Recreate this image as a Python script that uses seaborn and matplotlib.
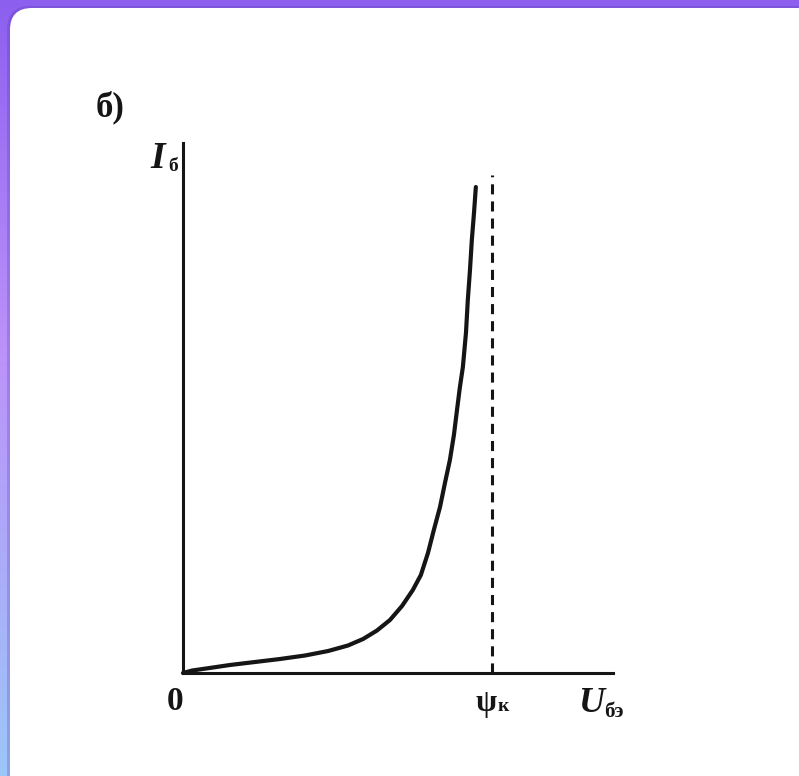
import numpy as np
import matplotlib
matplotlib.use("Agg")
import matplotlib.pyplot as plt
import seaborn as sns
from matplotlib.patches import FancyBboxPatch

# ---- data ----
U_be = [0.0, 0.030, 0.075, 0.152, 0.233, 0.314, 0.395, 0.470, 0.534, 0.583, 0.628,
        0.670, 0.709, 0.744, 0.770, 0.793, 0.812, 0.832, 0.848, 0.864, 0.877,
        0.887, 0.896, 0.906, 0.916, 0.922, 0.929, 0.935, 0.942, 0.948]
I_b = [0.0, 0.05, 0.09, 0.16, 0.22, 0.28, 0.35, 0.44, 0.55, 0.68, 0.85,
       1.06, 1.34, 1.66, 1.96, 2.40, 2.86, 3.32, 3.80, 4.26, 4.76,
       5.26, 5.70, 6.12, 6.80, 7.46, 8.06, 8.66, 9.20, 9.72]
psi_k = 1.0
psi_line_top = 9.96
x_max = 1.392
y_max = 10.6
panel_label = "б)"
y_label_main, y_label_sub = "I", "б"
x_label_main, x_label_sub = "U", "бэ"
psi_main, psi_sub = "ψ", "к"
origin_label = "0"

sns.set_theme(style="white")
plt.rcParams['font.family'] = ['Liberation Serif', 'DejaVu Serif']

W, H = 799, 776
fig = plt.figure(figsize=(W / 100, H / 100), dpi=100)

# ---- background frame ----
bg = fig.add_axes([0, 0, 1, 1])
bg.set_xlim(0, W)
bg.set_ylim(H, 0)
bg.axis('off')
t = np.linspace(0, 1, H)[:, None]
top = np.array([0x8c, 0x5f, 0xef]) / 255
mid = np.array([0xbc, 0x92, 0xfa]) / 255
bot = np.array([0x9c, 0xc6, 0xf8]) / 255
grad = np.where(t < 0.45, top + (mid - top) * (t / 0.45),
                mid + (bot - mid) * ((t - 0.45) / 0.55))
img = np.repeat(grad[:, None, :], 2, axis=1)
bg.imshow(img, extent=[0, W, H, 0], aspect='auto', zorder=0)
shadow = FancyBboxPatch((7, 6), 830, 800, boxstyle="round,pad=0,rounding_size=24",
                        facecolor='#4a2a9a', edgecolor='none', alpha=0.22, zorder=1)
bg.add_patch(shadow)
card = FancyBboxPatch((10, 8), 820, 800, boxstyle="round,pad=0,rounding_size=22",
                      facecolor='white', edgecolor='none', zorder=2)
bg.add_patch(card)

ink = '#151515'
bg.text(96, 116, panel_label, fontsize=25, fontweight='bold', color=ink,
        va='baseline', zorder=5)
bg.text(150, 168, y_label_main, fontsize=27, style='italic', fontweight='bold',
        color=ink, va='baseline', zorder=5)
bg.text(168, 171, y_label_sub, fontsize=14, fontweight='bold', color=ink,
        va='baseline', zorder=5)
bg.text(175, 710, origin_label, fontsize=24, fontweight='bold', color=ink,
        ha='center', va='baseline', zorder=5)
bg.text(486, 711, psi_main, fontsize=22, fontweight='bold', color=ink,
        ha='center', va='baseline', zorder=5)
bg.text(498, 711, psi_sub, fontsize=14, fontweight='bold', color=ink,
        va='baseline', zorder=5)
bg.text(578, 712, x_label_main, fontsize=26, style='italic', fontweight='bold',
        color=ink, va='baseline', zorder=5)
bg.text(604, 717, x_label_sub, fontsize=15, fontweight='bold', color=ink,
        va='baseline', zorder=5)

# ---- main chart ----
ax = fig.add_axes([183 / W, (H - 673) / H, 430 / W, 530 / H])
ax.patch.set_alpha(0)
sns.lineplot(x=U_be, y=I_b, ax=ax, color=ink, linewidth=3.0,
             estimator=None, sort=False)
for ln in ax.lines:
    ln.set_clip_on(False)
    ln.set_solid_joinstyle('round')
ax.vlines(psi_k, 0, psi_line_top, colors=ink, linewidth=2.2,
          linestyles=(0, (3.3, 2.3)))
ax.set_xlim(0, x_max)
ax.set_ylim(0, y_max)
ax.set_xticks([])
ax.set_yticks([])
ax.set_xlabel('')
ax.set_ylabel('')
for s in ['top', 'right']:
    ax.spines[s].set_visible(False)
for s in ['left', 'bottom']:
    ax.spines[s].set_color(ink)
    ax.spines[s].set_linewidth(2.2)

fig.savefig("out.png", dpi=100)
